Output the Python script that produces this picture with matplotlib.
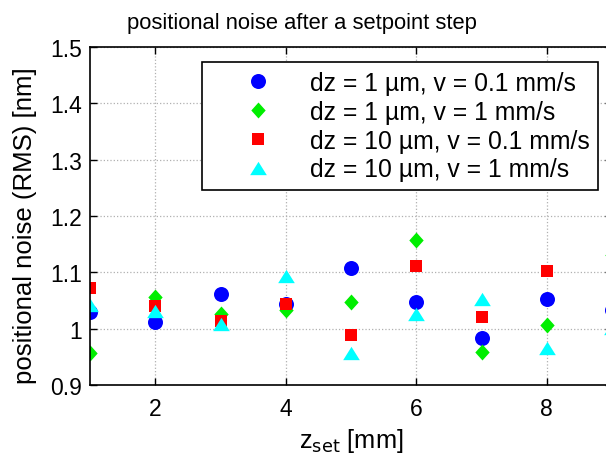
import matplotlib
matplotlib.use("Agg")
import matplotlib.pyplot as plt
from matplotlib.ticker import FuncFormatter

plt.rcParams['font.family'] = ['Liberation Sans', 'DejaVu Sans']

z_set = [1, 2, 3, 4, 5, 6, 7, 8, 9]
s1 = [1.029, 1.012, 1.061, 1.044, 1.108, 1.048, 0.983, 1.052, 1.033]
s2 = [0.957, 1.057, 1.026, 1.033, 1.047, 1.158, 0.958, 1.007, 1.131]
s3 = [1.072, 1.041, 1.014, 1.044, 0.988, 1.112, 1.021, 1.102, 1.035]
s4 = [1.042, 1.032, 1.008, 1.093, 0.957, 1.026, 1.053, 0.965, 1.002]
labels = ['dz = 1 µm, v = 0.1 mm/s', 'dz = 1 µm, v = 1 mm/s',
          'dz = 10 µm, v = 0.1 mm/s', 'dz = 10 µm, v = 1 mm/s']
x_ticks = [2, 4, 6, 8]
y_ticks = [0.9, 1.0, 1.1, 1.2, 1.3, 1.4, 1.5]

tri = [(-1, -0.8), (1, -0.8), (0, 0.8), (-1, -0.8)]
dia = [(0, 1), (0.9, 0), (0, -1), (-0.9, 0), (0, 1)]

W, H = 606, 460
fig = plt.figure(figsize=(W/100, H/100), dpi=100)
left, right, top, bottom = 90, 612, 48, 386
ax = fig.add_axes([left/W, 1-bottom/H, (right-left)/W, (bottom-top)/H])

ax.plot(z_set, s1, 'o', color='blue', ms=10.8, label=labels[0], linestyle='none', mew=0)
ax.plot(z_set, s2, marker=dia, color='#00ee00', ms=11.5, label=labels[1], linestyle='none', mew=0)
ax.plot(z_set, s3, 's', color='red', ms=8.8, label=labels[2], linestyle='none', mew=0)
ax.plot(z_set, s4, marker=tri, color='cyan', ms=12, label=labels[3], linestyle='none', mew=0)

ax.set_xlim(1, 9)
ax.set_ylim(0.9, 1.5)
ax.set_xticks(x_ticks)
ax.set_yticks(y_ticks)
ax.yaxis.set_major_formatter(FuncFormatter(lambda v, p: f'{v:g}'))
ax.grid(True, linestyle=':', color='#b0b0b0', linewidth=0.9)
ax.tick_params(direction='in', top=True, right=True, labelsize=16.5, length=5, width=1.0)
ax.tick_params(axis='x', pad=9)
ax.tick_params(axis='y', pad=5.5)
for sp in ax.spines.values():
    sp.set_linewidth(1.2)

fig.text(302/W, 1-24/H, 'positional noise after a setpoint step', fontsize=15.8,
         ha='center', va='center')
fig.text(351/W, 1-441/H, 'z$_{\\mathrm{set}}$ [mm]', fontsize=18.3, ha='center', va='center')
fig.text(25/W, 1-226/H, 'positional noise (RMS) [nm]', fontsize=18.5, ha='center',
         va='center', rotation=90)

leg = ax.legend(loc='upper right', bbox_to_anchor=(598/W, 1-63/H),
                bbox_transform=fig.transFigure, fontsize=17.8,
                frameon=True, fancybox=False, edgecolor='black', framealpha=1,
                handlelength=3.8, handletextpad=0.2, borderpad=0.35,
                labelspacing=0.2, borderaxespad=0, numpoints=1)
leg.get_frame().set_linewidth(1.2)

fig.savefig('out.png', dpi=100)
